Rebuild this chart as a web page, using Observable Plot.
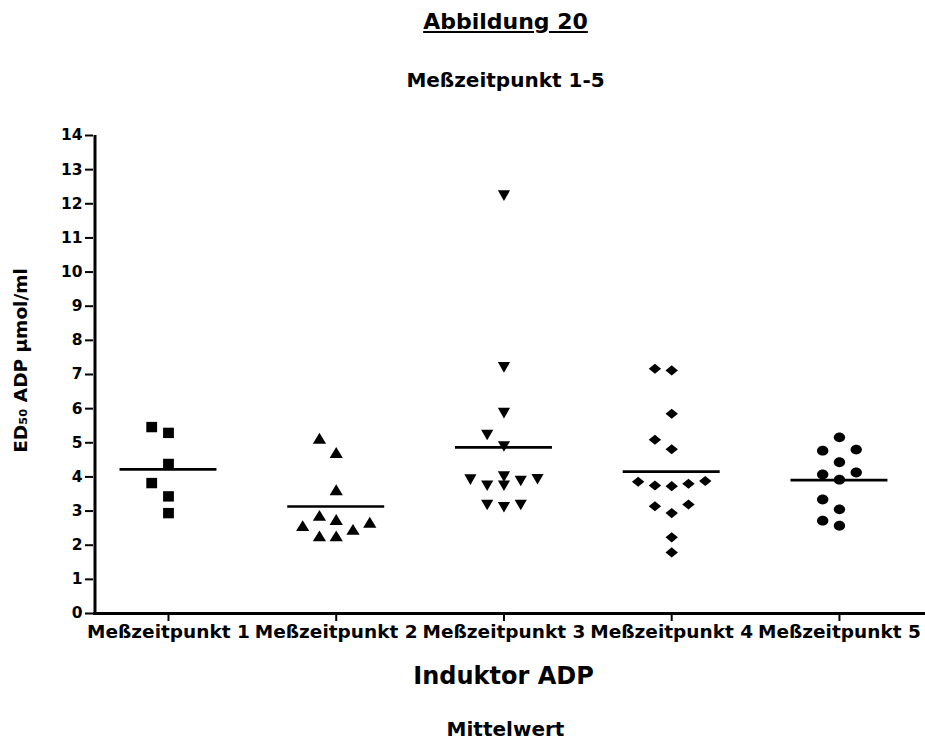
<!DOCTYPE html>
<html>
<head>
<meta charset="utf-8">
<script src="https://cdn.jsdelivr.net/npm/d3@7"></script>
<script src="https://cdn.jsdelivr.net/npm/@observablehq/plot@0.6"></script>
<style>
  html, body { margin: 0; padding: 0; background: #fff; overflow: hidden; }
  body { width: 925px; height: 742px; font-family: "DejaVu Sans", sans-serif; font-weight: bold; color: #000; }
  .title { height: 43px; line-height: 43px; font-size: 22px; text-align: center; padding-left: 86px; }
  .title span { text-decoration: underline; }
  .subtitle { height: 74px; line-height: 74px; font-size: 20px; text-align: center; padding-left: 86px; }
  .caption { margin-top: 18px; height: 23px; line-height: 23px; font-size: 20px; text-align: center; padding-left: 86px; }
  #chart svg { display: block; }
</style>
</head>
<body>
<div class="title"><span id="title"></span></div>
<div class="subtitle" id="subtitle"></div>
<div id="chart"></div>
<div class="caption" id="caption"></div>
<script>
// ---- data ----
const titleText = "Abbildung 20";
const subtitleText = "Meßzeitpunkt 1-5";
const xLabel = "Induktor ADP";
const yLabel = "ED₅₀ ADP µmol/ml";
const captionText = "Mittelwert";

const categories = ["Meßzeitpunkt 1", "Meßzeitpunkt 2", "Meßzeitpunkt 3", "Meßzeitpunkt 4", "Meßzeitpunkt 5"];
const mz1 = [5.46, 5.29, 4.38, 3.82, 3.43, 2.94];
const mz2 = [5.13, 4.71, 3.62, 2.87, 2.75, 2.67, 2.57, 2.46, 2.27, 2.27];
const mz3 = [12.24, 7.21, 5.87, 5.23, 4.89, 4.01, 3.93, 3.92, 3.88, 3.74, 3.74, 3.18, 3.18, 3.11];
const mz4 = [7.17, 7.12, 5.85, 5.09, 4.81, 3.88, 3.86, 3.80, 3.75, 3.73, 3.19, 3.14, 2.94, 2.23, 1.79];
const mz5 = [5.16, 4.80, 4.77, 4.43, 4.13, 4.07, 3.92, 3.34, 3.05, 2.72, 2.57];
const yTicks = [0, 1, 2, 3, 4, 5, 6, 7, 8, 9, 10, 11, 12, 13, 14];

const groups = [mz1, mz2, mz3, mz4, mz5];

// ---- custom symbols ----
function rad(size) { return Math.sqrt(size / Math.PI); }
const symSquare = { draw(c, s) { const r = rad(s); c.moveTo(-1.02*r, -0.98*r); c.lineTo(1.02*r, -0.98*r); c.lineTo(1.02*r, 0.98*r); c.lineTo(-1.02*r, 0.98*r); c.closePath(); } };
const symTriUp = { draw(c, s) { const r = rad(s); c.moveTo(0, -1.05*r); c.lineTo(1.25*r, 1.0*r); c.lineTo(-1.25*r, 1.0*r); c.closePath(); } };
const symTriDown = { draw(c, s) { const r = rad(s); c.moveTo(0, 1.0*r); c.lineTo(1.15*r, -1.0*r); c.lineTo(-1.15*r, -1.0*r); c.closePath(); } };
const symDiamond = { draw(c, s) { const r = rad(s); c.moveTo(0, -0.95*r); c.lineTo(1.17*r, 0); c.lineTo(0, 0.95*r); c.lineTo(-1.17*r, 0); c.closePath(); } };
const symEllipse = { draw(c, s) { const r = rad(s); const rx = 1.07*r, ry = 0.93*r, k = 0.5523;
  c.moveTo(rx, 0); c.bezierCurveTo(rx, k*ry, k*rx, ry, 0, ry); c.bezierCurveTo(-k*rx, ry, -rx, k*ry, -rx, 0);
  c.bezierCurveTo(-rx, -k*ry, -k*rx, -ry, 0, -ry); c.bezierCurveTo(k*rx, -ry, rx, -k*ry, rx, 0); c.closePath(); } };
const symbols = [symSquare, symTriUp, symTriDown, symDiamond, symEllipse];

// ---- scatter column layout (GraphPad-like) ----
function spread(values, gap = 0.43) {
  const order = values.map((v, i) => i).sort((a, b) => values[a] - values[b]);
  const cols = [0, -1, 1, -2, 2];
  const placed = [];
  const out = new Array(values.length);
  for (const i of order) {
    const v = values[i];
    let best = null, bestD = -1;
    for (const c of cols) {
      const same = placed.filter(p => p.c === c);
      const d = same.length ? d3.min(same, p => Math.abs(p.v - v)) : Infinity;
      if (d >= gap) { best = c; bestD = d; break; }
      if (d > bestD) { bestD = d; best = c; }
    }
    placed.push({ c: best, v });
    out[i] = best;
  }
  return out;
}

const colStep = 0.1;
const meanHalf = 0.289;
const xDomain = [0.553, 5.513];

const dotMarks = groups.map((vals, gi) => {
  const offs = spread(vals);
  const rows = vals.map((v, i) => ({ x: gi + 1 + offs[i] * colStep, y: v }));
  return Plot.dot(rows, { x: "x", y: "y", r: 5.3, symbol: symbols[gi], fill: "black", stroke: "none" });
});

const means = groups.map((vals, gi) => ({ x1: gi + 1 - meanHalf, x2: gi + 1 + meanHalf, y: d3.mean(vals) }));

document.getElementById("title").textContent = titleText;
document.getElementById("subtitle").textContent = subtitleText;
document.getElementById("caption").textContent = captionText;

const chart = Plot.plot({
  width: 925,
  height: 583,
  marginLeft: 93,
  marginRight: 0,
  marginTop: 18,
  marginBottom: 87,
  style: { fontFamily: "'DejaVu Sans', sans-serif", fontWeight: "bold", color: "#000", background: "#fff", overflow: "visible" },
  x: { type: "linear", domain: xDomain },
  y: { domain: [0, 14] },
  marks: [
    Plot.axisY({ ticks: yTicks, tickFormat: d => String(d), tickSize: 8, tickPadding: 3, fontSize: 15.5, strokeWidth: 2, label: null }),
    Plot.axisX({ ticks: [1, 2, 3, 4, 5], tickFormat: d => categories[d - 1], tickSize: 8, tickPadding: 3, fontSize: 18.5, strokeWidth: 2, label: null }),
    Plot.ruleX([xDomain[0]], { y1: 0, y2: 14, strokeWidth: 3, dx: 1.5, stroke: "black" }),
    Plot.ruleY([0], { strokeWidth: 3, stroke: "black" }),
    Plot.ruleY(means, { x1: "x1", x2: "x2", y: "y", strokeWidth: 2.6, stroke: "black" }),
    ...dotMarks,
    Plot.text([xLabel], { frameAnchor: "bottom", dy: 70, dx: -6, fontSize: 24, fontWeight: "bold", fill: "black" }),
    Plot.text([yLabel], { frameAnchor: "left", textAnchor: "middle", rotate: -90, dx: -72, dy: -14, fontSize: 18.5, fontWeight: "bold", fill: "black" })
  ]
});
document.getElementById("chart").appendChild(chart);
</script>
</body>
</html>
